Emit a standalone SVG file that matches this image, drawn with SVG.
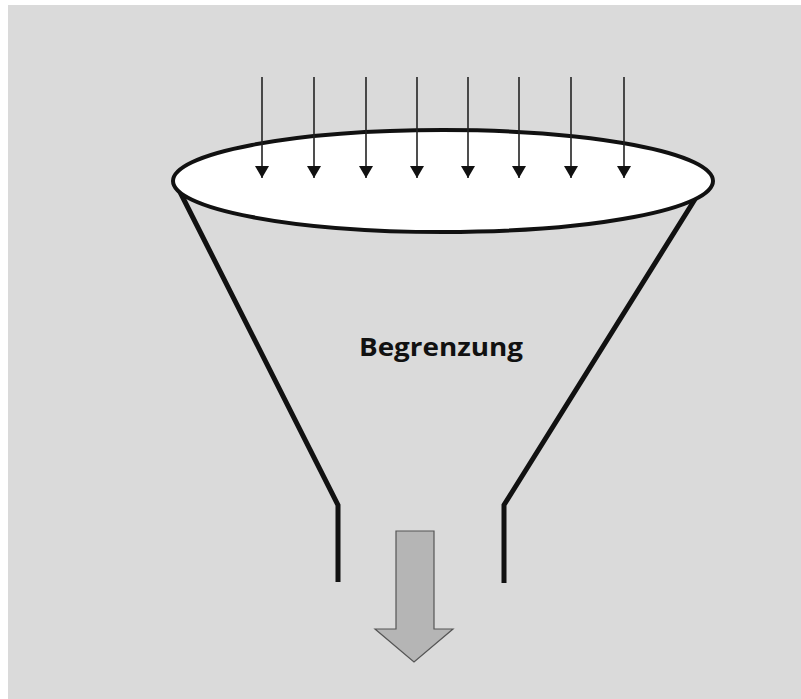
<svg xmlns="http://www.w3.org/2000/svg" width="801" height="699" viewBox="0 0 801 699">
<defs>
<marker id="ah" viewBox="0 0 12 14" refX="12" refY="7" markerWidth="12" markerHeight="14" orient="auto" markerUnits="userSpaceOnUse">
<path d="M0,0 L12,7 L0,14 Z" fill="#111"/>
</marker>
<style>
.arr{stroke:#222;stroke-width:1.6;fill:none;marker-end:url(#ah)}
.fun{stroke:#111;stroke-width:5;fill:none;stroke-linejoin:miter}
.lbl{font-family:"Open Sans","Noto Sans",sans-serif;font-weight:bold;font-size:25px;fill:#111}
</style>
</defs>
<rect width="801" height="699" fill="#ffffff"/>
<rect x="8" y="5" width="793" height="694" fill="#dadada"/>
<g id="funnel">
<path class="fun" d="M178,188 L338,505 L338,582"/>
<path class="fun" d="M697,196 L504,505 L504,583"/>
</g>
<g id="rim">
<ellipse cx="443" cy="181" rx="270" ry="51" fill="#ffffff" stroke="#111" stroke-width="4"/>
</g>
<g id="label">
<text class="lbl" x="441" y="356" text-anchor="middle" textLength="164" lengthAdjust="spacingAndGlyphs">Begrenzung</text>
</g>
<g id="output">
<path d="M396,531 L434,531 L434,629 L453,629 L414,662 L375,629 L396,629 Z" fill="#b5b5b5" stroke="#555" stroke-width="1.2"/>
</g>
<g id="connectors">
<line class="arr" x1="262" y1="77" x2="262" y2="178"/>
<line class="arr" x1="314" y1="77" x2="314" y2="178"/>
<line class="arr" x1="366" y1="77" x2="366" y2="178"/>
<line class="arr" x1="417" y1="77" x2="417" y2="178"/>
<line class="arr" x1="468" y1="77" x2="468" y2="178"/>
<line class="arr" x1="519" y1="77" x2="519" y2="178"/>
<line class="arr" x1="571" y1="77" x2="571" y2="178"/>
<line class="arr" x1="624" y1="77" x2="624" y2="178"/>
</g>
</svg>
